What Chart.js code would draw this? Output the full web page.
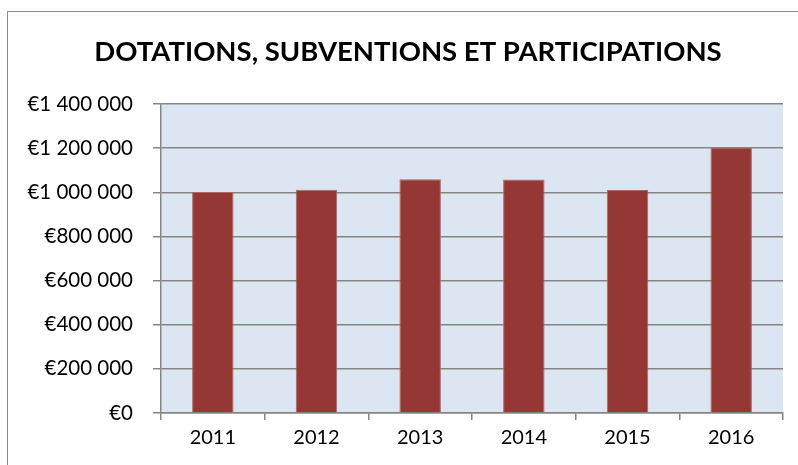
<!DOCTYPE html>
<html>
<head>
<meta charset="utf-8">
<script src="https://cdn.jsdelivr.net/npm/chart.js@4"></script>
<style>
  html, body { margin: 0; padding: 0; background: #fff; }
  #wrap { position: relative; width: 798px; height: 465px; overflow: hidden; }
  #frame { position: absolute; left: 7px; top: 11px; width: 900px; height: 600px; border: 1.5px solid #8a8a8a; box-sizing: border-box; }
  canvas { position: absolute; left: 0; top: 0; }
</style>
</head>
<body>
<div id="wrap">
  <div id="frame"></div>
  <canvas id="c" width="798" height="465"></canvas>
</div>
<script>
const categories = ["2011", "2012", "2013", "2014", "2015", "2016"];
const values = [1001000, 1012000, 1059000, 1058000, 1010000, 1203000];
const yTickValues = [0, 200000, 400000, 600000, 800000, 1000000, 1200000, 1400000];
const yTickLabels = ["€0", "€200 000", "€400 000", "€600 000", "€800 000", "€1 000 000", "€1 200 000", "€1 400 000"];
const titleText = "DOTATIONS, SUBVENTIONS ET PARTICIPATIONS";

const plotBg = {
  id: 'plotBg',
  beforeDraw(chart) {
    const a = chart.chartArea, ctx = chart.ctx;
    ctx.save();
    ctx.fillStyle = '#DCE6F2';
    ctx.fillRect(a.left, a.top, a.right - a.left, a.bottom - a.top);
    ctx.restore();
  }
};

const titleShift = {
  id: 'titleShift',
  afterLayout(chart) {
    const t = chart.titleBlock;
    if (t) { t.left += 6.5; t.right += 6.5; }
  }
};

new Chart(document.getElementById('c'), {
  type: 'bar',
  data: {
    labels: categories,
    datasets: [{
      data: values,
      backgroundColor: '#953735',
      borderColor: '#B06462',
      borderWidth: 1,
      barPercentage: 0.4,
      categoryPercentage: 1.0
    }]
  },
  options: {
    responsive: false,
    animation: false,
    layout: { padding: { left: 20, right: 15, top: 0, bottom: 9 } },
    plugins: {
      legend: { display: false },
      tooltip: { enabled: false },
      title: {
        display: true,
        text: titleText,
        color: '#000',
        font: { family: 'Lato', size: 27.5, weight: 'bold' },
        padding: { top: 36, bottom: 35 }
      }
    },
    scales: {
      x: {
        grid: { display: true, drawOnChartArea: false, drawTicks: true, tickLength: 7, color: '#868686', lineWidth: 1.5, offset: true },
        border: { display: true, color: '#868686', width: 1.5 },
        ticks: { color: '#000', font: { family: 'Lato', size: 20 }, padding: 6 }
      },
      y: {
        min: 0,
        max: 1400000,
        afterFit(scale) { scale.width = 141; },
        afterBuildTicks(scale) { scale.ticks = yTickValues.map(v => ({ value: v })); },
        grid: { color: '#868686', lineWidth: 1.5, tickLength: 8 },
        border: { display: true, color: '#868686', width: 1.5 },
        ticks: {
          color: '#000',
          font: { family: 'Lato', size: 20.5 },
          padding: 20,
          callback: (v) => yTickLabels[yTickValues.indexOf(v)]
        }
      }
    }
  },
  plugins: [plotBg, titleShift]
});
</script>
</body>
</html>
